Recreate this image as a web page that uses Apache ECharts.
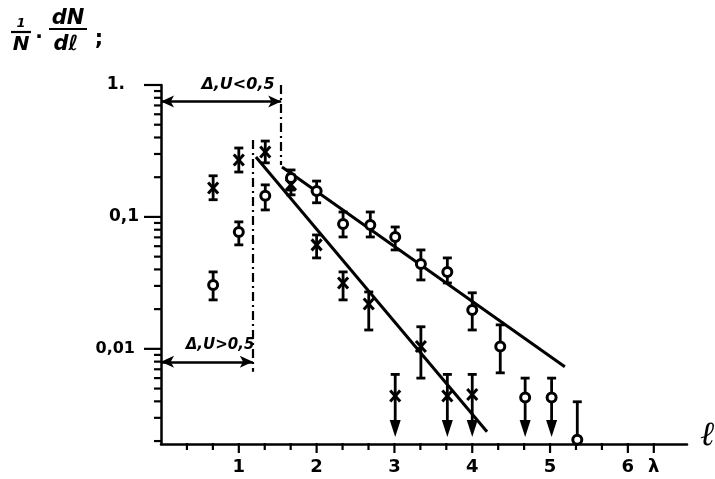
<!DOCTYPE html>
<html><head><meta charset="utf-8">
<script src="https://cdn.jsdelivr.net/npm/echarts@6/dist/echarts.min.js"></script>
<style>html,body{margin:0;padding:0;background:#fff}#c{width:715px;height:479px}</style>
</head><body><div id="c"></div>
<script>
// ---- data ----
// crosses: [x, y, low, high]
const crossPts = [
  [0.67, 0.166, 0.135, 0.205],
  [1.00, 0.270, 0.219, 0.333],
  [1.34, 0.311, 0.257, 0.376],
  [1.67, 0.175, 0.147, 0.208],
  [2.00, 0.0614, 0.0489, 0.073],
  [2.34, 0.0316, 0.0235, 0.0383],
  [2.67, 0.0219, 0.0139, 0.027],
  [3.34, 0.0104, 0.0060, 0.0147]
];
// crosses, upper limits: [x, y, top]
const crossLimits = [
  [3.01, 0.0044, 0.0064],
  [3.68, 0.0044, 0.0064],
  [4.00, 0.0045, 0.0064]
];
// circles: [x, y, low, high]
const circlePts = [
  [0.67, 0.0305, 0.0235, 0.0383],
  [1.00, 0.0770, 0.0614, 0.0917],
  [1.34, 0.145, 0.113, 0.175],
  [1.67, 0.197, 0.160, 0.227],
  [2.00, 0.157, 0.128, 0.187],
  [2.34, 0.0885, 0.0705, 0.109],
  [2.69, 0.0870, 0.0705, 0.109],
  [3.01, 0.0705, 0.0562, 0.0839],
  [3.34, 0.0440, 0.0333, 0.0562],
  [3.68, 0.0383, 0.0316, 0.0489],
  [4.00, 0.0197, 0.0139, 0.0266],
  [4.36, 0.0104, 0.00658, 0.0152],
  [5.35, 0.00205, 0.00205, 0.00397]
];
// circles, upper limits: [x, y, top]
const circleLimits = [
  [4.68, 0.00427, 0.0060],
  [5.02, 0.00427, 0.0060]
];
const arrowTip = 0.00215;
// fitted lines
const steepFit = [[1.22, 0.285], [4.19, 0.00235]];
const shallowFit = [[1.555, 0.239], [5.19, 0.00731]];
// boundary marks
const cutHigh = 1.545;  // Δ,U<0,5 boundary
const cutLow = 1.18;    // Δ,U>0,5 boundary
// axes
const xMin = 0, xMax = 6.76;
const yMin = 0.0019, yMax = 1;
const xLabels = [1, 2, 3, 4, 5, 6, 6.3333];
const xMajorTicks = [1, 2, 3, 4, 5, 6, 6.3333];
const xMinorTicks = [0.3333, 0.6667, 1.3333, 1.6667, 2.3333, 2.6667, 3.3333, 3.6667, 4.3333, 4.6667, 5.3333, 5.6667];
const yMajorTicks = [0.01, 0.1, 1];
const yMinorTicks = [0.002, 0.003, 0.004, 0.005, 0.006, 0.007, 0.008, 0.009,
  0.02, 0.03, 0.04, 0.05, 0.06, 0.07, 0.08, 0.09,
  0.2, 0.3, 0.4, 0.5, 0.6, 0.7, 0.8, 0.9];

const FONT = '"DejaVu Sans"';
const chart = echarts.init(document.getElementById('c'));

function markRender(kind) {
  return function (params, api) {
    const x = api.value(0), y = api.value(1), lo = api.value(2), hi = api.value(3), lim = api.value(4);
    const pc = api.coord([x, y]), pl = api.coord([x, lo]), ph = api.coord([x, hi]);
    const st = {stroke: '#000', lineWidth: 2.8, fill: null};
    const cx = pc[0], cy = pc[1];
    const ch = [];
    const bottom = lim ? pl[1] - 14 : pl[1];
    ch.push({type: 'line', shape: {x1: cx, y1: ph[1], x2: cx, y2: bottom}, style: st});
    ch.push({type: 'line', shape: {x1: cx - 4.5, y1: ph[1], x2: cx + 4.5, y2: ph[1]}, style: st});
    if (!lim && pl[1] - cy > 1) {
      ch.push({type: 'line', shape: {x1: cx - 4.5, y1: pl[1], x2: cx + 4.5, y2: pl[1]}, style: st});
    }
    if (lim) {
      ch.push({type: 'polygon', shape: {points: [[cx - 5.5, pl[1] - 17], [cx + 5.5, pl[1] - 17], [cx, pl[1]]]}, style: {fill: '#000'}});
    }
    if (kind === 'circle') {
      ch.push({type: 'circle', shape: {cx: cx, cy: cy, r: 4.5}, style: {fill: '#fff', stroke: '#000', lineWidth: 3}});
    } else {
      ch.push({type: 'line', shape: {x1: cx - 5, y1: cy - 5.5, x2: cx + 5, y2: cy + 5.5}, style: {stroke: '#000', lineWidth: 3}});
      ch.push({type: 'line', shape: {x1: cx + 5, y1: cy - 5.5, x2: cx - 5, y2: cy + 5.5}, style: {stroke: '#000', lineWidth: 3}});
    }
    return {type: 'group', children: ch};
  };
}

function tickRender(axis) {
  return function (params, api) {
    const v = api.value(0), major = api.value(1);
    if (axis === 'y') {
      const p = api.coord([xMin, v]);
      const len = major ? 17 : 7;
      return {type: 'line', shape: {x1: p[0] - len, y1: p[1], x2: p[0], y2: p[1]}, style: {stroke: '#000', lineWidth: 2.2}};
    } else {
      const p = api.coord([v, yMin]);
      const len = major ? 9 : 6;
      return {type: 'line', shape: {x1: p[0], y1: p[1] - 1, x2: p[0], y2: p[1] + len}, style: {stroke: '#000', lineWidth: 2.2}};
    }
  };
}

const noSym = 'none';
const dashDot = [9, 4, 2, 4];

const option = {
  animation: false,
  backgroundColor: '#fff',
  grid: {left: 161, right: 28, top: 85, bottom: 35, containLabel: false, outerBoundsMode: 'none'},
  xAxis: {
    type: 'value', min: xMin, max: xMax,
    axisLine: {lineStyle: {color: '#000', width: 2.5}},
    axisTick: {show: false},
    splitLine: {show: false},
    axisLabel: {
      customValues: xLabels, margin: 14, color: '#000', fontSize: 18, fontWeight: 'bold', fontFamily: FONT,
      formatter: function (v) { return Math.abs(v - 6.3333) < 0.01 ? 'λ' : String(Math.round(v)); }
    }
  },
  yAxis: {
    type: 'log', logBase: 10, min: yMin, max: yMax,
    axisLine: {lineStyle: {color: '#000', width: 2.5}},
    axisTick: {show: false},
    splitLine: {show: false},
    axisLabel: {
      margin: 22, color: '#000', fontSize: 17, fontWeight: 'bold', fontFamily: FONT,
      formatter: function (v) {
        const e = Math.log10(v);
        if (Math.abs(e - Math.round(e)) > 1e-6) return '';
        const k = Math.round(e);
        if (k === 0) return '{a|1.}';
        if (k === -1) return '{c|0,1}';
        if (k === -2) return '{b|0,01}';
        return '';
      },
      rich: {
        a: {fontSize: 17, fontWeight: 'bold', fontFamily: FONT, color: '#000', padding: [0, 14, 0, 0]},
        b: {fontSize: 16, fontWeight: 'bold', fontFamily: FONT, color: '#000', padding: [0, 4, 0, 0]},
        c: {fontSize: 17, fontWeight: 'bold', fontFamily: FONT, color: '#000', padding: [0, 0, 0, 0]}
      }
    }
  },
  series: [
    {
      type: 'line', name: 'steep fit', data: steepFit, showSymbol: false, symbol: noSym,
      lineStyle: {color: '#000', width: 3}, z: 3,
      markLine: {
        silent: true, animation: false, label: {show: false},
        symbol: ['none', 'none'],
        lineStyle: {color: '#000', width: 2.2, type: dashDot},
        data: [
          [{coord: [cutHigh, yMax]}, {coord: [cutHigh, 0.247]}],
          [{coord: [cutLow, 0.383]}, {coord: [cutLow, 0.0067]}]
        ]
      }
    },
    {
      type: 'line', name: 'shallow fit', data: shallowFit, showSymbol: false, symbol: noSym,
      lineStyle: {color: '#000', width: 3}, z: 3,
      markLine: {
        silent: true, animation: false, label: {show: false},
        symbol: ['arrow', 'arrow'], symbolSize: [9, 13],
        lineStyle: {color: '#000', width: 2.5, type: 'solid'},
        data: [
          [{coord: [xMin, 0.75]}, {coord: [cutHigh, 0.75]}],
          [{coord: [xMin, 0.00797]}, {coord: [cutLow, 0.00797]}]
        ]
      }
    },
    {
      type: 'custom', name: 'crosses', renderItem: markRender('cross'), z: 5,
      data: crossPts.map(d => [d[0], d[1], d[2], d[3], 0]).concat(crossLimits.map(d => [d[0], d[1], arrowTip, d[2], 1]))
    },
    {
      type: 'custom', name: 'circles', renderItem: markRender('circle'), z: 6,
      data: circlePts.map(d => [d[0], d[1], d[2], d[3], 0]).concat(circleLimits.map(d => [d[0], d[1], arrowTip, d[2], 1]))
    },
    {
      type: 'custom', name: 'yTicks', renderItem: tickRender('y'), z: 4, silent: true,
      data: yMajorTicks.map(v => [v, 1]).concat(yMinorTicks.map(v => [v, 0])),
      encode: {x: -1, y: 0}
    },
    {
      type: 'custom', name: 'xTicks', renderItem: tickRender('x'), z: 4, silent: true,
      data: xMajorTicks.map(v => [v, 1]).concat(xMinorTicks.map(v => [v, 0])),
      encode: {x: 0, y: -1}
    }
  ],
  graphic: [
    {type: 'text', x: 21, y: 24, style: {text: '1', font: 'bold italic 13px ' + FONT, align: 'center', verticalAlign: 'middle', fill: '#000'}},
    {type: 'line', shape: {x1: 11, y1: 32, x2: 31, y2: 32}, style: {stroke: '#000', lineWidth: 2.2}},
    {type: 'text', x: 21, y: 45, style: {text: 'N', font: 'bold italic 20px ' + FONT, align: 'center', verticalAlign: 'middle', fill: '#000'}},
    {type: 'text', x: 39, y: 33, style: {text: '.', font: 'bold 20px ' + FONT, align: 'center', verticalAlign: 'middle', fill: '#000'}},
    {type: 'text', x: 68, y: 19, style: {text: 'dN', font: 'bold italic 21px ' + FONT, align: 'center', verticalAlign: 'middle', fill: '#000'}},
    {type: 'line', shape: {x1: 49, y1: 29, x2: 87, y2: 29}, style: {stroke: '#000', lineWidth: 2.2}},
    {type: 'text', x: 66, y: 45, style: {text: 'dℓ', font: 'bold italic 21px ' + FONT, align: 'center', verticalAlign: 'middle', fill: '#000'}},
    {type: 'text', x: 99, y: 40, style: {text: ';', font: 'bold 21px ' + FONT, align: 'center', verticalAlign: 'middle', fill: '#000'}},
    {type: 'text', x: 238, y: 85, style: {text: 'Δ,U<0,5', font: 'bold italic 16px ' + FONT, align: 'center', verticalAlign: 'middle', fill: '#000'}},
    {type: 'text', x: 220, y: 345, style: {text: 'Δ,U>0,5', font: 'bold italic 15px ' + FONT, align: 'center', verticalAlign: 'middle', fill: '#000'}},
    {type: 'text', x: 707, y: 436, style: {text: 'ℓ', font: 'italic 34px "DejaVu Serif"', align: 'center', verticalAlign: 'middle', fill: '#000'}}
  ]
};
chart.setOption(option);
</script></body></html>
